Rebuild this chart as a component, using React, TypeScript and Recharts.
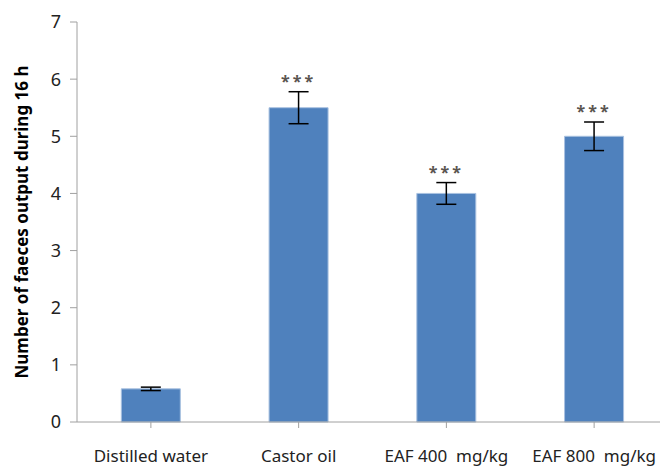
import { Bar, BarChart, XAxis, YAxis, ErrorBar, LabelList, Label } from "recharts"

const groups = ["Distilled water", "Castor oil", "EAF 400  mg/kg", "EAF 800  mg/kg"]
const faeces = [0.58, 5.5, 4.0, 5.0]
const sem = [0.03, 0.28, 0.19, 0.25]
const stars = ["", "***", "***", "***"]
const yTicks = [0, 1, 2, 3, 4, 5, 6, 7]

const data = groups.map((name, i) => ({ name, value: faeces[i], err: sem[i], sig: stars[i] }))

const axisGray = "#a0a0a0"
const font = "'Noto Sans', sans-serif"

function GroupTick(props: any) {
    const { x, y, payload } = props
    return (
        <text
            x={x}
            y={y + 32}
            textAnchor="middle"
            fontFamily={font}
            fontSize={17}
            fill="#222"
            style={{ whiteSpace: "pre" }}
        >
            {payload.value}
        </text>
    )
}

function Stars(props: any) {
    const { x, y, width, height, index } = props
    const sig = stars[index]
    if (!sig) return null
    const perUnit = height / faeces[index]
    const top = y - sem[index] * perUnit
    return (
        <text
            x={x + width / 2}
            y={top - 5}
            textAnchor="middle"
            fontFamily={font}
            fontSize={16}
            fontWeight="bold"
            letterSpacing={3}
            fill="#5a5550"
        >
            {sig}
        </text>
    )
}

export default function App() {
    return (
        <div style={{ position: "absolute", left: 0, top: 0, width: 660, height: 469, overflow: "hidden", background: "#fff" }}>
            <BarChart
                width={680}
                height={469}
                data={data}
                margin={{ top: 22, right: 12, left: 0, bottom: 0 }}
                barCategoryGap="30%"
            >
                <XAxis
                    dataKey="name"
                    height={47}
                    stroke={axisGray}
                    tickSize={6}
                    tick={<GroupTick />}
                    interval={0}
                />
                <YAxis
                    width={77}
                    domain={[0, 7]}
                    ticks={yTicks}
                    stroke={axisGray}
                    tickSize={7}
                    tickMargin={9}
                    tick={{ fontFamily: font, fontSize: 18, fill: "#222" }}
                >
                    <Label
                        value="Number of faeces output during 16 h"
                        angle={-90}
                        position="insideLeft"
                        offset={22}
                        style={{ textAnchor: "middle", fontFamily: font, fontSize: 17, fontWeight: "bold", fill: "#000" }}
                    />
                </YAxis>
                <Bar dataKey="value" fill="#4f81bd" stroke="#a9c1e0" strokeWidth={1} isAnimationActive={false}>
                    <ErrorBar dataKey="err" width={10} stroke="#000" strokeWidth={1.5} />
                    <LabelList dataKey="sig" content={<Stars />} />
                </Bar>
            </BarChart>
        </div>
    )
}
